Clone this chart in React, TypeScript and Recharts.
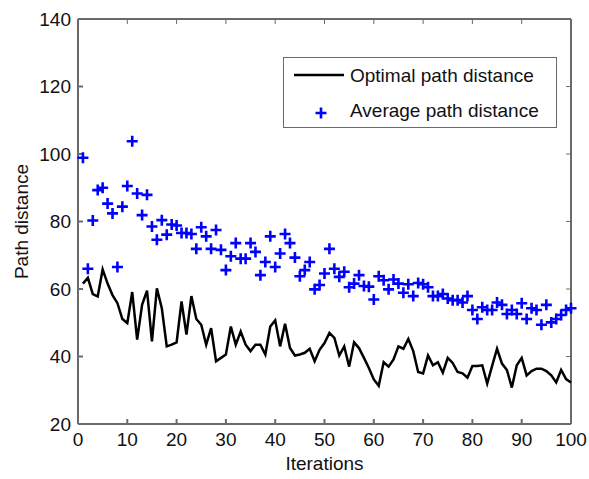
import React from 'react';
import { ComposedChart, Line, Scatter, XAxis, YAxis, ReferenceLine } from 'recharts';

// optimal path distance per iteration (1..100)
const optimal = [
  61.6, 63.3, 58.5, 57.8, 65.8, 61.6, 58.2, 55.8, 51.1, 49.9,
  59.1, 45.0, 55.3, 59.5, 44.5, 60.2, 54.3, 43.0, 43.5, 44.2,
  56.3, 46.5, 57.9, 51.1, 49.4, 43.5, 48.4, 38.6, 39.6, 40.6,
  48.9, 43.5, 47.4, 43.5, 41.6, 43.5, 43.5, 40.6, 48.9, 50.7,
  43.0, 49.7, 42.5, 40.3, 40.6, 41.1, 42.3, 38.6, 42.0, 44.0,
  47.0, 45.5, 40.3, 43.0, 37.0, 44.2, 42.5, 39.6, 36.6, 33.2,
  31.3, 38.3, 37.0, 39.1, 43.0, 42.3, 45.2, 41.6, 35.4, 35.0,
  40.3, 37.4, 38.3, 35.2, 39.6, 38.1, 35.4, 35.0, 33.7, 37.2,
  37.2, 37.4, 32.0, 37.2, 42.3, 37.9, 36.0, 30.8, 37.4, 39.6,
  34.4, 35.7, 36.4, 36.4, 35.7, 34.4, 32.3, 36.0, 33.3, 32.3,
];

// average path distance per iteration (1..100)
const average = [
  98.9, 66.0, 80.3, 89.3, 90.0, 85.3, 82.4, 66.5, 84.4, 90.5,
  103.8, 88.3, 81.9, 87.9, 78.5, 74.6, 80.4, 76.1, 79.1, 78.8,
  76.6, 76.6, 76.3, 71.9, 78.3, 75.6, 71.9, 77.5, 71.6, 65.6,
  69.7, 73.6, 69.0, 69.0, 73.6, 71.0, 64.1, 68.0, 75.6, 66.5,
  70.5, 76.3, 73.6, 69.3, 63.8, 65.6, 68.0, 59.9, 61.2, 64.6,
  71.9, 66.0, 63.6, 65.1, 60.5, 61.6, 64.1, 60.9, 60.7, 56.9,
  63.8, 62.6, 59.9, 62.8, 61.6, 58.9, 61.4, 57.9, 61.8, 61.4,
  60.5, 57.9, 57.9, 58.5, 57.2, 56.7, 56.7, 56.0, 57.9, 53.8,
  51.1, 54.6, 53.8, 53.8, 56.0, 55.3, 52.6, 53.8, 52.6, 55.8,
  51.1, 54.3, 53.8, 49.4, 55.3, 50.1, 51.1, 52.3, 53.8, 54.3,
];

const xTicks = [0, 10, 20, 30, 40, 50, 60, 70, 80, 90, 100];
const yTicks = [20, 40, 60, 80, 100, 120, 140];

const rows = optimal.map((v, i) => ({ it: i + 1, opt: v, avg: average[i] }));

const FONT = '"Liberation Sans", Arial, sans-serif';
const AXIS = '#6a6a6a';
const BLUE = '#0000ff';

function Plus(props: any) {
  const { cx, cy } = props;
  if (cx == null || cy == null) return null;
  const r = 5.5;
  return (
    <path
      d={`M${cx - r},${cy}L${cx + r},${cy}M${cx},${cy - r}L${cx},${cy + r}`}
      stroke={BLUE}
      strokeWidth={2.6}
      fill="none"
    />
  );
}

// legend drawn as an overlay box in the upper right of the plot
function LegendBox() {
  const txt = { fontSize: 19, color: '#111', fontFamily: FONT, lineHeight: '19px' };
  return (
    <div style={{
      position: 'absolute', left: 283, top: 57, width: 274, height: 71,
      boxSizing: 'border-box', border: `1px solid ${AXIS}`, background: '#fff',
    }}>
      <svg width={60} height={71} style={{ position: 'absolute', left: 0, top: 0 }}>
        <line x1={10} x2={60} y1={17} y2={17} stroke="#000" strokeWidth={2.5} />
        <Plus cx={37} cy={55} />
      </svg>
      <div style={{ ...txt, position: 'absolute', left: 66, top: 8, whiteSpace: 'nowrap' }}>Optimal path distance</div>
      <div style={{ ...txt, position: 'absolute', left: 66, top: 43, whiteSpace: 'nowrap' }}>Average path distance</div>
    </div>
  );
}

export default function App() {
  const tickStyle = { fontSize: 19, fill: '#111', fontFamily: FONT };
  return (
    <div style={{ position: 'absolute', left: 0, top: 0, width: 589, height: 479, background: '#fff' }}>
      <ComposedChart width={589} height={479} data={rows} margin={{ top: 19, right: 18, bottom: 0, left: 0 }}>
        <XAxis
          dataKey="it" type="number" domain={[0, 100]} ticks={xTicks}
          height={55} stroke={AXIS} strokeWidth={2} tickSize={-5} tickMargin={14} tick={tickStyle}
          label={{ value: 'Iterations', position: 'insideBottom', offset: 9, style: { fontSize: 19, fill: '#111', fontFamily: FONT } }}
        />
        <YAxis
          type="number" domain={[20, 140]} ticks={yTicks}
          width={78} stroke={AXIS} strokeWidth={2} tickSize={-5} tickMargin={12} tick={tickStyle}
          label={{
            value: 'Path distance', angle: -90, position: 'insideLeft', offset: 21,
            style: { fontSize: 19, fill: '#111', fontFamily: FONT, textAnchor: 'middle' },
          }}
        />
        {/* top and right sides of the box */}
        <ReferenceLine y={140} stroke={AXIS} strokeWidth={2} />
        <ReferenceLine x={100} stroke={AXIS} strokeWidth={2} />
        {xTicks.slice(1, -1).map((t) => (
          <ReferenceLine key={`tx${t}`} segment={[{ x: t, y: 140 }, { x: t, y: 138.5 }]} stroke={AXIS} />
        ))}
        {yTicks.slice(1, -1).map((t) => (
          <ReferenceLine key={`ty${t}`} segment={[{ x: 100, y: t }, { x: 99, y: t }]} stroke={AXIS} />
        ))}
        <Line
          dataKey="opt" name="Optimal path distance" type="linear" stroke="#000" strokeWidth={2.5}
          dot={false} isAnimationActive={false}
        />
        <Scatter dataKey="avg" name="Average path distance" shape={<Plus />} isAnimationActive={false} />
      </ComposedChart>
      <LegendBox />
    </div>
  );
}
